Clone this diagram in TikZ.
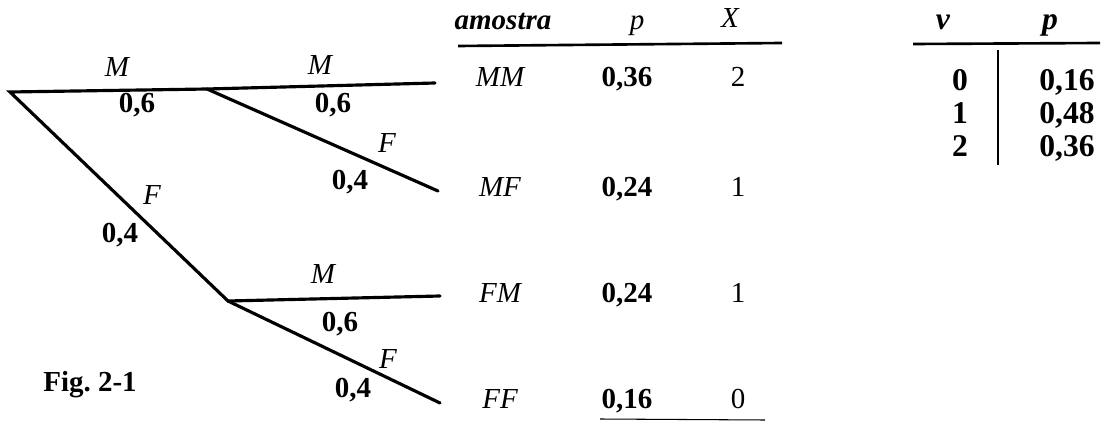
\documentclass[tikz,border=0pt]{standalone}
\usepackage{fontspec}
\setmainfont{Liberation Serif}
\usetikzlibrary{positioning}

\newcommand{\figsize}{\fontsize{16.5}{18}\selectfont}
\newcommand{\bigsize}{\fontsize{18}{20}\selectfont}

\tikzset{
  branch/.style={line width=1.8pt, line cap=round},
  lab/.style={font=\figsize\itshape},
  prob/.style={font=\figsize\bfseries},
  num/.style={font=\figsize},
  rtab/.style={font=\bigsize\bfseries},
}

\begin{document}
\begin{tikzpicture}[x=0.02cm, y=-0.02cm, every node/.style={inner sep=0pt, anchor=base}]
\useasboundingbox (0,0) rectangle (1109,432);
% ---- LEFT: tree ----
\coordinate (root) at (10,92);
\coordinate (m1) at (207,89);
\coordinate (f1) at (228,301);
\coordinate (mm) at (435,83);
\coordinate (mf) at (438,191);
\coordinate (fm) at (440,296);
\coordinate (ff) at (440,403);
\draw[branch] (mm) -- (m1) -- (root) -- (f1) -- (fm);
\draw[branch] (m1) -- (mf);
\draw[branch] (f1) -- (ff);
% first stage
\node[lab] (lM1) at (117,77) {M};
\node[prob] (pM1) at (137,113) {0,6};
\node[lab] (lF1) at (152,205) {F};
\node[prob] (pF1) at (120,243) {0,4};
% second stage, upper
\node[lab] (lM2) at (320,75) {M};
\node[prob] (pM2) at (333,113) {0,6};
\node[lab] (lF2) at (387,153) {F};
\node[prob] (pF2) at (350,190) {0,4};
% second stage, lower
\node[lab] (lM3) at (323,283) {M};
\node[prob] (pM3) at (340,332) {0,6};
\node[lab] (lF3) at (388,368) {F};
\node[prob] (pF3) at (353,397) {0,4};
\node[font=\figsize\bfseries] (cap) at (90,391) {Fig.\ 2-1};
% ---- MIDDLE: sample table ----
\node[font=\figsize\bfseries\itshape] (hS) at (503,30) {amostra};
\node[lab] (hP) at (637,30) {p};
\node[lab] (hX) at (730,28) {X};
\draw[line width=1.5pt] (458,46) -- (782,43);
\foreach \s/\p/\x/\y [count=\i] in {MM/{0,36}/2/87, MF/{0,24}/1/197, FM/{0,24}/1/302, FF/{0,16}/0/408}{
  \node[lab] (s\i) at (500,\y) {\s};
  \node[prob] (p\i) at (627,\y) {\p};
  \node[num] (x\i) at (738,\y) {\x};
}
\draw[line width=0.6pt] (600,419) -- (765,420);
% ---- RIGHT: distribution of X ----
\node[font=\bigsize\bfseries\itshape] (hv) at (943,30) {v};
\node[font=\bigsize\bfseries\itshape] (hp) at (1050,30) {p};
\draw[line width=1.5pt] (913,44) -- (1100,43);
\draw[line width=1.1pt] (998,50) -- (998,165);
\foreach \v/\p/\y [count=\i] in {0/{0,16}/91, 1/{0,48}/124, 2/{0,36}/157}{
  \node[rtab] (v\i) at (960,\y) {\v};
  \node[rtab] (q\i) at (1067,\y) {\p};
}
\end{tikzpicture}
\end{document}
